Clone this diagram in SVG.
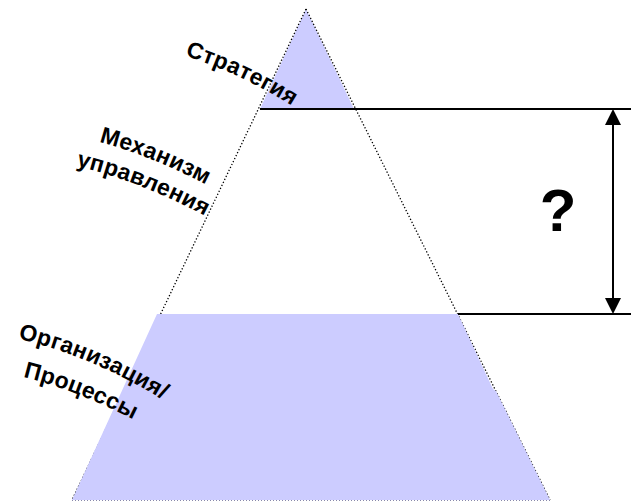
<svg xmlns="http://www.w3.org/2000/svg" width="631" height="502" viewBox="0 0 631 502">
<style>
.fill{fill:#ccccff;stroke:none}
.edge{fill:none;stroke:#000;stroke-width:1.3;stroke-dasharray:1.3 2}
.rule{fill:none;stroke:#000;stroke-width:2}
.lbl{font-family:"Liberation Sans",Arial,sans-serif;font-weight:bold;font-size:23px;letter-spacing:0.3px;fill:#000}
</style>
<defs>
<marker id="ah" viewBox="0 0 16 16" refX="0" refY="8" markerWidth="16" markerHeight="16" markerUnits="userSpaceOnUse" orient="auto-start-reverse">
<path d="M0,0 L16,8 L0,16 Z" fill="#000"/>
</marker>
<path id="p1" d="M185,56 Q238,72 294,107 l30,20"/>
<path id="p2" d="M99,142 Q152,156 209,186 l30,18"/>
<path id="p3" d="M76,166 Q140,181 207,217 l30,18"/>
<path id="p4" d="M18,339 Q90,355 165,401 l30,20"/>
<path id="p5" d="M23,377 Q80,391 142,424 l30,18"/>
</defs>
<rect width="631" height="502" fill="#fff"/>
<g id="strategy">
<polygon class="fill" points="306,9 354,109 260,109"/>
</g>
<g id="edges">
<line class="edge" x1="306" y1="9" x2="72" y2="500"/>
<line class="edge" x1="306" y1="9" x2="550" y2="500"/>
</g>
<g id="organization">
<polygon class="fill" points="157,314 458,314 493,389 496,391 550,500 72,500"/>
<line x1="72" y1="500.5" x2="550" y2="500.5" stroke="#8888aa" stroke-width="1" stroke-dasharray="1 2"/>
</g>
<g id="connectors">
<line class="rule" x1="260" y1="109" x2="631" y2="109"/>
<line class="rule" x1="458" y1="314" x2="631" y2="314"/>
<line x1="613" y1="125" x2="613" y2="298" stroke="#000" stroke-width="2" marker-start="url(#ah)" marker-end="url(#ah)"/>
</g>
<g id="labels">
<text class="lbl"><textPath href="#p1">Стратегия</textPath></text>
<text class="lbl"><textPath href="#p2">Механизм</textPath></text>
<text class="lbl"><textPath href="#p3">управления</textPath></text>
<text class="lbl"><textPath href="#p4">Организация/</textPath></text>
<text class="lbl"><textPath href="#p5">Процессы</textPath></text>
</g>
<g id="question">
<text x="558" y="231" text-anchor="middle" font-family="Liberation Sans, Arial, sans-serif" font-weight="bold" font-size="60">?</text>
</g>
</svg>
